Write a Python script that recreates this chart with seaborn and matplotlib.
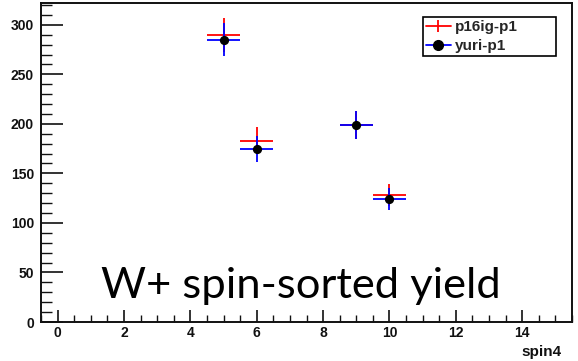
import numpy as np
import pandas as pd
import matplotlib
matplotlib.use("Agg")
import matplotlib.pyplot as plt
import seaborn as sns
from matplotlib.ticker import MultipleLocator
from matplotlib.lines import Line2D

# ---- data ----
spin4 = [5, 6, 9, 10]
p16ig_y = [290, 183, 199, 128]
p16ig_err = [17.0, 13.5, 14.1, 11.3]
yuri_y = [285, 175, 199, 124]
yuri_err = [16.9, 13.2, 14.1, 11.1]
x_halfwidth = [0.5, 0.5, 0.5, 0.5]
series_names = ["p16ig-p1", "yuri-p1"]
title_text = "W+ spin-sorted yield"
xlabel_text = "spin4"

sns.set_theme(style="white")
plt.rcParams["font.family"] = ["Liberation Sans", "DejaVu Sans"]

fig = plt.figure(figsize=(5.78, 3.61), dpi=100)
fig.patch.set_facecolor("white")
W, H = 578, 361
ax = fig.add_axes([41 / W, (H - 322) / H, (572 - 41) / W, (322 - 3) / H])
ax.set_facecolor("white")

# red series: error crosses only
ax.errorbar(spin4, p16ig_y, xerr=x_halfwidth, yerr=p16ig_err, fmt="none",
            ecolor="#ff0000", elinewidth=1.3, capsize=0, zorder=2)
# blue series: error crosses + black markers
ax.errorbar(spin4, yuri_y, xerr=x_halfwidth, yerr=yuri_err, fmt="none",
            ecolor="#0000ff", elinewidth=1.3, capsize=0, zorder=3)
df = pd.DataFrame({"spin4": spin4, "yield": yuri_y})
sns.scatterplot(data=df, x="spin4", y="yield", ax=ax, color="black", s=44,
                edgecolor="black", linewidth=0, zorder=4, legend=False)

ax.set_xlim(-0.5, 15.5)
ax.set_ylim(0, 322)
ax.xaxis.set_major_locator(MultipleLocator(2))
ax.xaxis.set_minor_locator(MultipleLocator(0.5))
ax.yaxis.set_major_locator(MultipleLocator(50))
ax.yaxis.set_minor_locator(MultipleLocator(10))
ax.set_xticks([0, 2, 4, 6, 8, 10, 12, 14])

for s in ax.spines.values():
    s.set_color("#111111")
    s.set_linewidth(1.4)

ax.tick_params(axis="x", which="major", direction="in", length=9, width=1.2,
               color="#111111", bottom=True, top=False, labelsize=10, pad=3)
ax.tick_params(axis="x", which="minor", direction="in", length=5, width=1.0,
               color="#111111", bottom=True, top=False)
ax.tick_params(axis="y", which="major", direction="in", length=16, width=1.2,
               color="#111111", left=True, right=False, labelsize=10, pad=5)
ax.tick_params(axis="y", which="minor", direction="in", length=8, width=1.0,
               color="#111111", left=True, right=False)
for lab in ax.get_xticklabels() + ax.get_yticklabels():
    lab.set_fontweight("bold")
    lab.set_color("#111111")

ax.set_xlabel("")
ax.set_ylabel("")
fig.text(562 / W, 1 - 352 / H, xlabel_text, ha="right", va="center",
         fontsize=11, fontweight="bold", color="#111111")

# big annotation
fig.text(101 / W, 1 - 298 / H, title_text, ha="left", va="baseline",
         fontsize=31.3, family=["Lato", "DejaVu Sans"], color="black")

# legend
leg_h1 = Line2D([], [], color="#ff0000", lw=1.3, marker="|", ms=9, mew=1.3)
leg_h2 = Line2D([], [], color="#0000ff", lw=1.3, marker="o", ms=7,
                mfc="black", mec="black")
x0 = (423 - 41) / (572 - 41)
wdt = (556 - 423) / (572 - 41)
y_top = (322 - 17) / (322 - 3)
hgt = 40 / (322 - 3)
leg = ax.legend([leg_h1, leg_h2], series_names, loc="upper left",
                bbox_to_anchor=(x0, y_top - hgt, wdt, hgt), mode="expand",
                frameon=True, fancybox=False, edgecolor="black", framealpha=1,
                prop={"weight": "bold", "size": 11}, handlelength=1.6,
                handletextpad=0.3, borderpad=0.2, labelspacing=0.35,
                borderaxespad=0)
leg.get_frame().set_linewidth(1.2)

fig.savefig("out.png", dpi=100, facecolor="white")
